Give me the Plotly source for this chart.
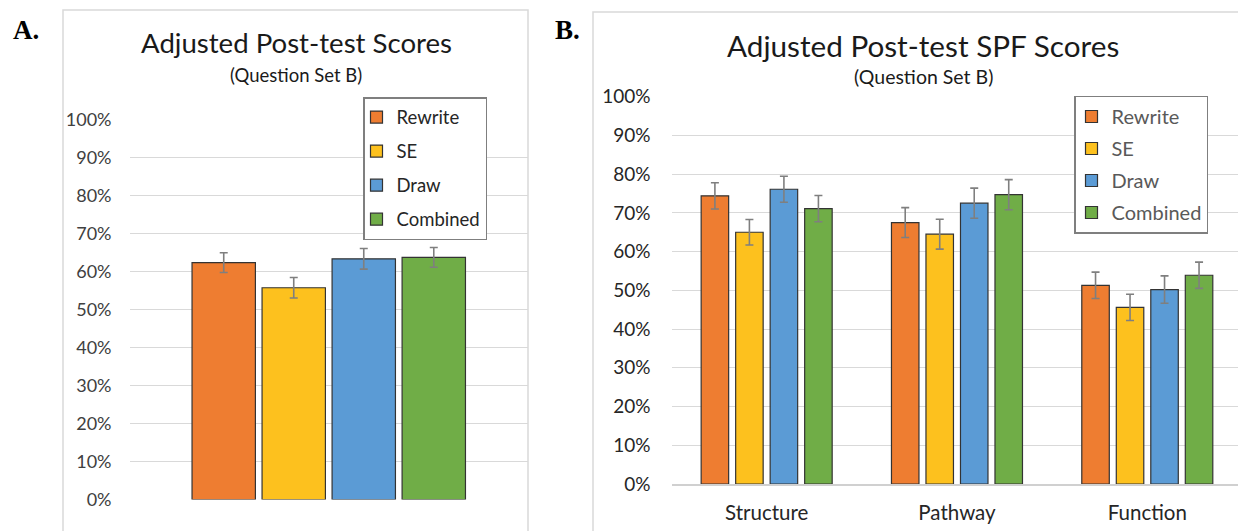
import plotly.graph_objects as go

# ---- data -------------------------------------------------------------
series = ["Rewrite", "SE", "Draw", "Combined"]
colors = ["#EE7D31", "#FDC11E", "#5B9BD5", "#70AD47"]

# Panel A: overall adjusted post-test score (percent) with error
overall_scores = [62.3, 55.7, 63.3, 63.7]
overall_err = [2.6, 2.7, 2.7, 2.6]

# Panel B: Structure / Pathway / Function scores per condition
spf_categories = ["Structure", "Pathway", "Function"]
spf_scores = {
    "Rewrite":  [74.4, 67.5, 51.3],
    "SE":       [65.0, 64.5, 45.6],
    "Draw":     [76.1, 72.5, 50.2],
    "Combined": [71.1, 74.7, 53.9],
}
spf_err = {
    "Rewrite":  [3.4, 3.85, 3.4],
    "SE":       [3.3, 3.85, 3.4],
    "Draw":     [3.35, 3.9, 3.55],
    "Combined": [3.4, 3.9, 3.4],
}
y_ticks = list(range(0, 101, 10))
y_tick_labels = [f"{v}%" for v in y_ticks]

# ---- geometry (pixels of a 1238 x 531 page) ----------------------------
W, H = 1238, 531
px = lambda x: x / W
py = lambda y: 1 - y / H

FONT = "Lato"
fig = go.Figure()

# Panel A bars: one group, explicit widths/offsets
a_width, a_pitch = 0.159, 0.1757
for i, name in enumerate(series):
    fig.add_trace(go.Bar(
        x=[0], y=[overall_scores[i]], name=name,
        xaxis="x", yaxis="y",
        width=a_width, offset=(i - 2) * a_pitch + (a_pitch - a_width) / 2,
        marker=dict(color=colors[i], line=dict(color="#333333", width=1.2)),
        error_y=dict(type="data", array=[overall_err[i]], color="#7F7F7F",
                     thickness=1.6, width=4),
        legend="legend", legendgroup="a" + name, showlegend=True,
    ))

# Panel B grouped bars
b_width, b_pitch = 0.1445, 0.1813
b_first = -(3 * b_pitch + b_width) / 2
for i, name in enumerate(series):
    fig.add_trace(go.Bar(
        x=list(range(len(spf_categories))), y=spf_scores[name], name=name,
        xaxis="x2", yaxis="y2",
        width=b_width, offset=b_first + i * b_pitch,
        marker=dict(color=colors[i], line=dict(color="#333333", width=1.2)),
        error_y=dict(type="data", array=spf_err[name], color="#7F7F7F",
                     thickness=1.6, width=4),
        legend="legend2", legendgroup="b" + name, showlegend=True,
    ))

grid = "#D9D9D9"
yaxis_common = dict(range=[0, 100], tickvals=y_ticks, ticktext=y_tick_labels,
                    showgrid=True, gridcolor=grid, gridwidth=1,
                    zeroline=False, showline=False, ticks="", fixedrange=True,
                    automargin=False)

fig.update_layout(
    width=W, height=H,
    margin=dict(l=0, r=0, t=0, b=0, pad=0, autoexpand=False),
    paper_bgcolor="white", plot_bgcolor="white",
    barmode="group", showlegend=True,
    xaxis=dict(domain=[px(129.5), px(528)], range=[-0.5, 0.5],
               showticklabels=False, showgrid=False, zeroline=False,
               showline=False, ticks="", automargin=False),
    yaxis=dict(domain=[py(499.5), py(119.3)], anchor="x",
               tickfont=dict(family=FONT, size=18, color="#404040"),
               ticklabelstandoff=17, **yaxis_common),
    xaxis2=dict(domain=[px(671.5), 1], range=[-0.5, 2 + (W - 1147.3) / 190.3],
                tickvals=list(range(len(spf_categories))), ticktext=spf_categories,
                tickfont=dict(family=FONT, size=20.5, color="#262626"),
                ticklabelstandoff=10, showgrid=False, zeroline=False,
                showline=True, linecolor="#D0D0D0", linewidth=1.5, ticks="",
                anchor="y2", automargin=False),
    yaxis2=dict(domain=[py(484), py(96.7)], anchor="x2",
                tickfont=dict(family=FONT, size=19, color="#262626"),
                ticklabelstandoff=20, **yaxis_common),
    legend=dict(x=px(363), y=py(97), xanchor="left", yanchor="top",
                bgcolor="white", bordercolor="#7F7F7F", borderwidth=1.5,
                font=dict(family=FONT, size=18.5, color="#262626"),
                tracegroupgap=7, indentation=-8),
    legend2=dict(x=px(1074), y=py(95.5), xanchor="left", yanchor="top",
                 bgcolor="white", bordercolor="#7F7F7F", borderwidth=1.5,
                 font=dict(family=FONT, size=20, color="#595959"),
                 tracegroupgap=3, indentation=-4),
)

# chart-area frames
fig.add_shape(type="rect", xref="paper", yref="paper",
              x0=px(63), x1=px(528), y0=py(545), y1=py(10),
              line=dict(color="#D9D9D9", width=1.5), layer="below")
fig.add_shape(type="rect", xref="paper", yref="paper",
              x0=px(593), x1=px(1260), y0=py(545), y1=py(12),
              line=dict(color="#D9D9D9", width=1.5), layer="below")


def label(x, y, text, size, family=FONT, color="#1A1A1A"):
    fig.add_annotation(x=px(x), y=py(y), xref="paper", yref="paper",
                       xanchor="center", yanchor="middle",
                       text=text, showarrow=False,
                       font=dict(family=family, size=size, color=color))


# titles
label(296, 43, "Adjusted Post-test Scores", 27.6)
label(296, 75, "(Question Set B)", 18.5)
label(923, 45, "Adjusted Post-test SPF Scores", 29.7)
label(923, 77, "(Question Set B)", 19.5)

# panel letters
label(26, 30, "<b>A.</b>", 27, family="Liberation Serif", color="#000000")
label(567, 30, "<b>B.</b>", 27, family="Liberation Serif", color="#000000")

fig.write_html("out.html")
